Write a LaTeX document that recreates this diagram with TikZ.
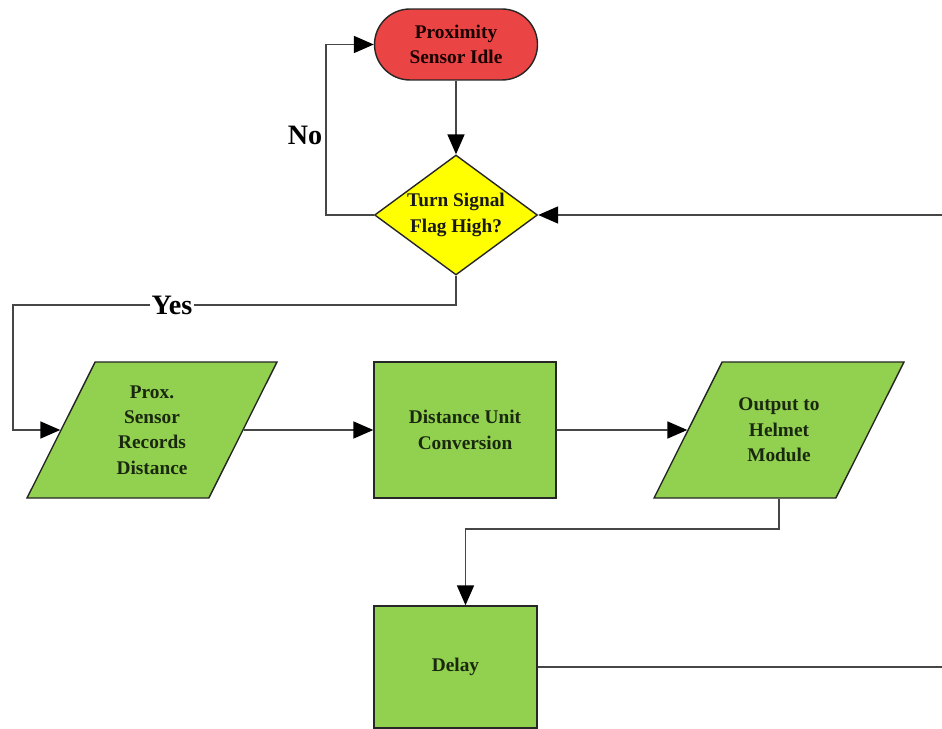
\documentclass[tikz,border=0pt]{standalone}
\usepackage{fontspec}
\setmainfont{Liberation Serif}
\usetikzlibrary{shapes.geometric,shapes.misc,arrows.meta}
\definecolor{idlered}{RGB}{234,68,68}
\definecolor{flagyellow}{RGB}{255,255,0}
\definecolor{stepgreen}{RGB}{146,208,80}
\definecolor{linegray}{RGB}{70,70,70}
\definecolor{boxtext}{RGB}{25,40,15}
\tikzset{
	box/.style = {draw=black!85, line width=0.8pt, fill=stepgreen, text=boxtext, align=center, inner sep=0pt, font=\bfseries\fontsize{11}{14.5}\selectfont},
	io/.style = {box, trapezium, trapezium left angle=63.4, trapezium right angle=116.6, trapezium stretches body, inner ysep=#1, minimum width=5cm},
	flow/.style = {draw=linegray, line width=1pt, -{Triangle[length=0.4cm, width=0.34cm, color=black]}},
	answer/.style = {font=\bfseries\fontsize{16}{18}\selectfont, text=black, inner sep=1pt}
}
\begin{document}
\begin{tikzpicture}[x=0.02cm, y=-0.02cm]
		\useasboundingbox (0, 0) rectangle (942, 729);
		\node[box, rounded rectangle, fill=idlered, text=black!90!red, minimum width=3.26cm, minimum height=1.42cm] (idle) at (456, 44.5) {Proximity\\Sensor Idle};
		\node[box, diamond, fill=flagyellow, text=black!90, inner sep=-8pt, minimum width=3.26cm, minimum height=2.4cm] (flag) at (456, 215) {Turn Signal\\Flag High?};
		\node[io=13.3pt] (records) at (152, 430) {Prox.\\Sensor\\Records\\Distance};
		\node[box, minimum width=3.64cm, minimum height=2.72cm] (convert) at (465, 430) {Distance Unit\\Conversion};
		\node[io=20.5pt] (output) at (779, 430) {Output to\\Helmet\\Module};
		\node[box, minimum width=3.26cm, minimum height=2.44cm] (delay) at (455.5, 667) {Delay};
		\coordinate (yesbend) at (13, 305);
		\coordinate (loopin) at (960, 215);
		\coordinate (loopout) at (960, 667);
		\draw[flow] (idle.south) -- (flag.north);
		\draw[flow] (flag.west) -- ++(-48, 0) |- (idle.west);
		\node[answer] (no) at (305, 135) {No};
		\draw[flow] (flag.south) |- (yesbend) |- (records.west);
		\node[answer, fill=white] (yes) at (172, 305) {Yes};
		\draw[flow] (records.east) -- (convert.west);
		\draw[flow] (convert.east) -- (output.west);
		\draw[flow] (output.south) -- ++(0, 30) -| ([xshift=0.2cm]delay.north);
		\draw[flow] (delay.east) -- (loopout) -- (loopin) -- (flag.east);
	\end{tikzpicture}
\end{document}
